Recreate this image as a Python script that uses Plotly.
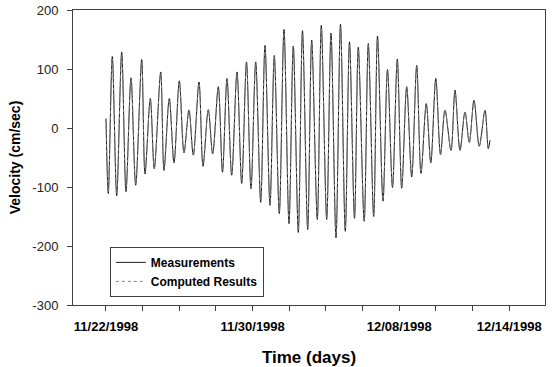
import pandas as pd
import plotly.graph_objects as go

# Times of the turning points, in days after 11/22/1998 00:00
t_days = [0.000, 0.125, 0.344, 0.584, 0.857, 1.091, 1.364, 1.620, 1.948, 2.128,
          2.417, 2.635, 2.984, 3.164, 3.453, 3.710, 3.999, 4.255, 4.528, 4.763,
          5.074, 5.292, 5.581, 5.821, 6.127, 6.356, 6.601, 6.858, 7.147, 7.403,
          7.665, 7.910, 8.167, 8.440, 8.674, 8.947, 9.182, 9.454, 9.711, 9.984,
          10.218, 10.491, 10.720, 11.004, 11.222, 11.528, 11.746, 12.040, 12.275, 12.548,
          12.793, 13.055, 13.284, 13.557, 13.764, 14.086, 14.310, 14.604, 14.812, 15.112,
          15.357, 15.630, 15.892, 16.132, 16.405, 16.678, 16.950, 17.185, 17.474, 17.720,
          17.992, 18.249, 18.494, 18.822, 19.040, 19.313, 19.585, 19.820, 20.076, 20.365,
          20.676, 20.856, 20.949]

# Measured velocity (cm/sec) at those times
measured = [16, -111, 121, -115, 129, -108, 85, -97, 116, -78,
            50, -69, 95, -72, 50, -59, 80, -42, 30, -46,
            78, -65, 31, -44, 70, -75, 84, -80, 95, -94,
            112, -103, 112, -126, 140, -131, 123, -145, 167, -162,
            139, -177, 165, -172, 149, -155, 174, -155, 161, -186,
            176, -175, 146, -153, 137, -158, 143, -150, 156, -124,
            99, -101, 117, -102, 70, -83, 106, -77, 41, -59,
            84, -45, 30, -38, 64, -38, 27, -24, 47, -31,
            30, -35, -21]

# Computed velocity (cm/sec) at those times
computed = [14, -108, 117, -112, 124, -105, 83, -95, 112, -76,
            49, -68, 92, -70, 49, -58, 78, -43, 31, -47,
            76, -63, 32, -45, 68, -73, 82, -79, 92, -92,
            109, -101, 110, -123, 136, -129, 121, -142, 162, -158,
            137, -173, 160, -169, 146, -152, 169, -153, 158, -181,
            171, -171, 143, -151, 134, -155, 140, -147, 152, -122,
            97, -99, 114, -100, 69, -81, 103, -75, 42, -58,
            81, -45, 31, -38, 62, -37, 28, -25, 45, -31,
            29, -34, -21]

y_ticks = [200, 100, 0, -100, -200, -300]
y_labels = ["200", "100", "0", "-100", "-200", "-300"]

x_tick_dates = pd.date_range("1998-11-22", "1998-12-16", freq="2D")
x_labelled = {"1998-11-22": "11/22/1998", "1998-11-30": "11/30/1998",
              "1998-12-08": "12/08/1998", "1998-12-14": "12/14/1998"}
x_tick_text = [x_labelled.get(d.strftime("%Y-%m-%d"), "") for d in x_tick_dates]

base = pd.Timestamp("1998-11-22")
times = [base + pd.to_timedelta(d, unit="D") for d in t_days]

fig = go.Figure()
fig.add_trace(go.Scatter(x=times, y=measured, mode="lines", name="Measurements",
                         line=dict(color="#1a1a1a", width=1, shape="spline", smoothing=0.9)))
fig.add_trace(go.Scatter(x=times, y=computed, mode="lines", name="Computed Results",
                         line=dict(color="#808080", width=1, dash="dot", shape="spline", smoothing=0.9)))

x_left = base - pd.to_timedelta(1.80, unit="D")
x_right = base + pd.to_timedelta(23.95, unit="D")

fig.update_layout(
    width=556, height=367,
    margin=dict(l=73, r=11, t=10, b=62),
    paper_bgcolor="white", plot_bgcolor="white",
    font=dict(family="Arial, Liberation Sans, sans-serif", color="#000000"),
    showlegend=True,
    legend=dict(x=0.078, y=0.197, xanchor="left", yanchor="top",
                bordercolor="#404040", borderwidth=1, bgcolor="white",
                font=dict(size=12, weight="bold", color="#000000"),
                itemwidth=30, tracegroupgap=0),
    xaxis=dict(range=[x_left, x_right], tickmode="array", tickvals=list(x_tick_dates),
               ticktext=x_tick_text, ticks="outside", ticklen=5, tickcolor="#404040",
               showline=True, linecolor="#404040", linewidth=1, mirror=True,
               showgrid=False, zeroline=False, automargin=False, ticklabelstandoff=4,
               tickfont=dict(size=13, weight="bold", color="#000000"),
               title=dict(text="Time (days)", font=dict(size=17, weight="bold"), standoff=20)),
    yaxis=dict(range=[-300, 200], tickmode="array", tickvals=y_ticks, ticktext=y_labels,
               ticks="outside", ticklen=5, tickcolor="#404040",
               showline=True, linecolor="#404040", linewidth=1, mirror=True,
               showgrid=False, zeroline=False, automargin=False, ticklabelstandoff=6,
               tickfont=dict(size=13, color="#222222"),
               title=dict(text="Velocity (cm/sec)", font=dict(size=14, weight="bold"), standoff=8)),
)

fig.write_html("out.html", config={"displayModeBar": False},
               post_script="document.body.style.margin='0';")
